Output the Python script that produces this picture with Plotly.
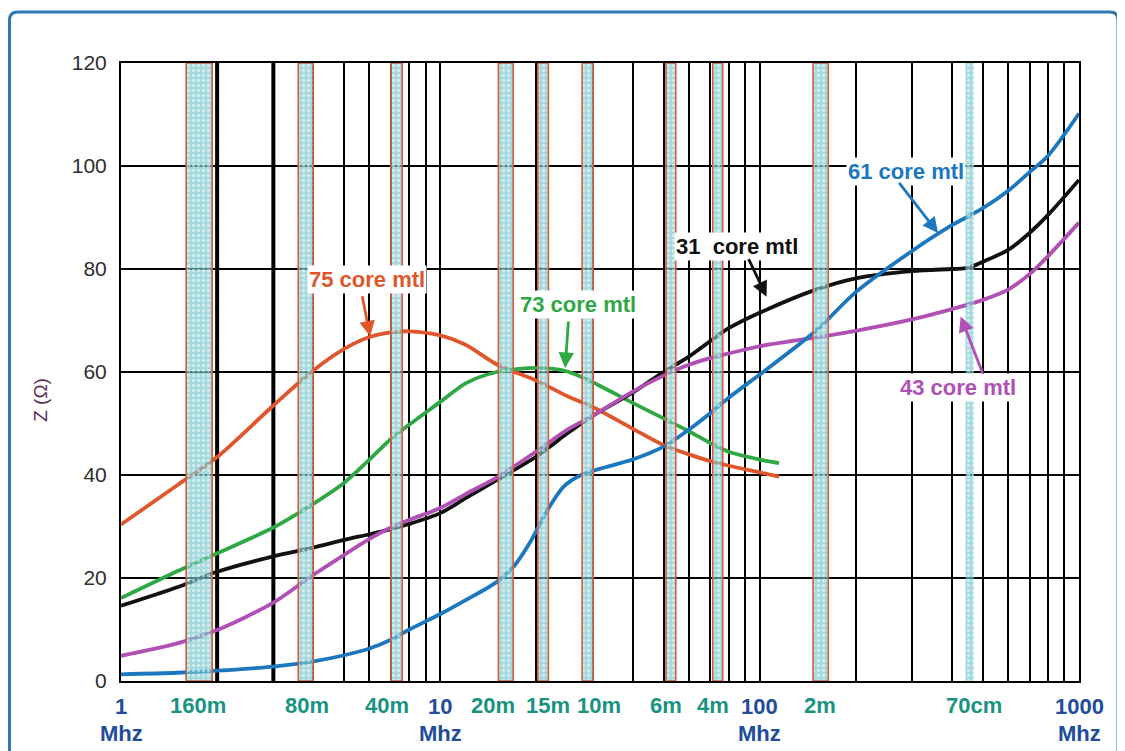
import numpy as np
import plotly.graph_objects as go

# ---------------- data ----------------
# core material curves: frequency (MHz) and impedance Z (ohm)
f75 = [1, 1.5, 2, 3, 4, 5, 6, 7, 8, 10, 12, 15, 20, 25, 30, 40, 50, 60, 70, 80, 100, 115]
z75 = [30.4, 38.0, 43.5, 53.5, 60.3, 64.5, 66.8, 67.7, 67.9, 67.1, 65.3, 61.5, 58.3, 55.3, 53.2, 49.0, 45.8, 44.0, 42.7, 41.8, 40.5, 39.7]

f73 = [1, 1.5, 2, 3, 4, 5, 6, 7, 8, 10, 12, 15, 20, 25, 30, 40, 50, 60, 70, 80, 100, 115]
z73 = [16.1, 21.3, 24.8, 29.8, 34.4, 38.5, 43.0, 47.0, 49.8, 54.2, 57.8, 60.0, 60.8, 60.1, 58.0, 54.0, 51.0, 48.5, 46.2, 44.5, 43.0, 42.3]

f31 = [1, 1.5, 2, 3, 4, 5, 6, 7, 8, 10, 12, 15, 20, 25, 30, 40, 50, 60, 70, 80, 100, 150, 200, 300, 400, 450, 500, 600, 700, 800, 1000]
z31 = [14.6, 18.2, 21.2, 24.2, 25.9, 27.4, 28.5, 29.5, 30.5, 32.6, 35.5, 39.0, 43.6, 48.1, 51.5, 56.0, 60.0, 63.0, 66.0, 68.5, 71.5, 76.0, 78.2, 79.6, 80.0, 80.2, 81.4, 83.7, 87.0, 90.5, 97.3]

f43 = [1, 1.5, 2, 3, 4, 5, 6, 7, 8, 10, 12, 15, 20, 25, 30, 40, 50, 60, 70, 80, 100, 150, 200, 300, 400, 500, 600, 700, 800, 1000]
z43 = [4.9, 7.3, 9.9, 15.2, 20.6, 24.5, 27.6, 29.8, 31.3, 33.6, 36.3, 39.5, 44.6, 48.8, 51.5, 56.2, 59.3, 61.4, 62.7, 63.6, 65.0, 66.7, 68.0, 70.2, 72.2, 74.0, 76.0, 79.0, 82.5, 89.0]

f61 = [1, 1.5, 2, 3, 4, 5, 6, 7, 8, 10, 12, 15, 17, 19, 21.7, 24.3, 27, 30, 40, 50, 60, 70, 80, 100, 150, 200, 300, 400, 500, 600, 700, 800, 1000]
z61 = [1.3, 1.6, 2.0, 2.8, 3.8, 5.0, 6.3, 8.0, 10.0, 13.0, 15.7, 19.2, 22.3, 26.7, 33.3, 37.7, 39.7, 40.8, 43.0, 45.5, 48.8, 52.0, 55.0, 59.5, 68.0, 75.5, 83.5, 88.5, 91.8, 95.2, 98.8, 102.0, 110.2]

# amateur bands (MHz)
band_names = ["160m", "80m", "40m", "20m", "15m", "10m", "6m", "4m", "2m", "70cm"]
band_lo = [1.60, 3.59, 7.0, 15.2, 20.2, 27.8, 50.9, 71.3, 147, 441]
band_hi = [1.93, 4.00, 7.6, 16.9, 21.8, 30.1, 54.6, 76.6, 164, 468]
band_outlined = [True, True, True, True, True, True, True, True, True, False]
band_label_mhz = [1.74, 3.83, 6.82, 14.6, 21.8, 31.4, 50.9, 71.3, 155, 468]

decade_mhz = [1, 10, 100, 1000]
decade_text = ["1", "10", "100", "1000"]
heavy_grid_mhz = [2, 3]
y_ticks = [0, 20, 40, 60, 80, 100, 120]

# curve labels: text, colour, text position, arrow tail, arrow tip (MHz, ohm)
labels = [
    ("75 core mtl", "#e0562c", (5.88, 77.9), (5.68, 75.0), (6.03, 66.9)),
    ("73 core mtl", "#2ea843", (27.0, 73.2), (25.2, 70.1), (24.6, 60.8)),
    ("31  core mtl", "#111111", (85.2, 84.3), (91.9, 82.2), (105.1, 74.6)),
    ("61 core mtl", "#1c78be", (287, 98.9), (271, 97.0), (362, 87.0)),
    ("43 core mtl", "#b04fb4", (417, 56.9), (501, 59.5), (426, 70.8)),
]

curves = [
    (f75, z75, "#e0562c", "75 core mtl"),
    (f73, z73, "#2ea843", "73 core mtl"),
    (f31, z31, "#111111", "31 core mtl"),
    (f43, z43, "#b04fb4", "43 core mtl"),
    (f61, z61, "#1c78be", "61 core mtl"),
]

FONT = "Liberation Sans, Arial"

# ---------------- figure ----------------
fig = go.Figure()

for fm in heavy_grid_mhz:
    fig.add_trace(go.Scatter(x=[fm, fm], y=[0, 120], mode="lines",
                             line=dict(color="#000000", width=4),
                             hoverinfo="skip", showlegend=False))

for fx, zy, col, name in curves:
    fig.add_trace(go.Scatter(x=fx, y=zy, mode="lines", name=name,
                             line=dict(color=col, width=3.8, shape="spline", smoothing=0.8),
                             showlegend=False))

for name, lo, hi, outl in zip(band_names, band_lo, band_hi, band_outlined):
    fig.add_trace(go.Scatter(
        x=[lo, hi, hi, lo, lo], y=[0, 0, 120, 120, 0],
        mode="lines", fill="toself", name=name,
        fillcolor="rgba(115,198,205,0.65)",
        fillpattern=dict(shape=".", fgcolor="rgba(255,255,255,0.95)",
                         size=5, solidity=0.35, fillmode="overlay"),
        line=dict(color="#d9593a" if outl else "rgba(0,0,0,0)", width=1.6),
        hoverinfo="skip", showlegend=False))

ann = []
for text, col, tpos, tail, tip in labels:
    ann.append(dict(x=np.log10(tpos[0]), y=tpos[1], xref="x", yref="y",
                    text=f"<b>{text}</b>", showarrow=False, bgcolor="white",
                    font=dict(family=FONT, size=22, color=col),
                    xanchor="center", yanchor="middle"))
    ann.append(dict(x=np.log10(tip[0]), y=tip[1], xref="x", yref="y",
                    ax=np.log10(tail[0]), ay=tail[1], axref="x", ayref="y",
                    text="", showarrow=True, arrowhead=2, arrowsize=1.1,
                    arrowwidth=2.8, arrowcolor=col))

for fm, txt in zip(decade_mhz, decade_text):
    ann.append(dict(x=np.log10(fm), y=0, xref="x", yref="paper", yshift=-25,
                    text=f"<b>{txt}</b>", showarrow=False,
                    font=dict(family=FONT, size=22, color="#1f4c9c"),
                    xanchor="center", yanchor="middle"))
    ann.append(dict(x=np.log10(fm), y=0, xref="x", yref="paper", yshift=-52,
                    text="<b>Mhz</b>", showarrow=False,
                    font=dict(family=FONT, size=22, color="#1f4c9c"),
                    xanchor="center", yanchor="middle"))

for fm, txt in zip(band_label_mhz, band_names):
    ann.append(dict(x=np.log10(fm), y=0, xref="x", yref="paper", yshift=-24,
                    text=f"<b>{txt}</b>", showarrow=False,
                    font=dict(family=FONT, size=22, color="#17937f"),
                    xanchor="center", yanchor="middle"))

ann.append(dict(x=0, y=0.455, xref="paper", yref="paper", xshift=-80,
                text="Z (Ω)", textangle=-90, showarrow=False,
                font=dict(family=FONT, size=19, color="#5c2a55"),
                xanchor="center", yanchor="middle"))

grid_ticks = [m * 10 ** d for d in range(3) for m in range(1, 10)] + [1000]

fig.update_layout(
    width=1117, height=743, autosize=False,
    margin=dict(l=113, r=46, t=55, b=70),
    paper_bgcolor="white", plot_bgcolor="white",
    annotations=ann,
    xaxis=dict(type="log", range=[0, 3], tickvals=grid_ticks, showticklabels=False,
               showgrid=True, gridcolor="#000000", gridwidth=2, ticks="",
               showline=True, linecolor="#000000", linewidth=2, mirror=True,
               zeroline=False),
    yaxis=dict(range=[0, 120], tickvals=y_ticks, showgrid=True,
               gridcolor="#000000", gridwidth=2, ticks="",
               showline=True, linecolor="#000000", linewidth=2, mirror=True,
               zeroline=False, ticklabelstandoff=8,
               tickfont=dict(family=FONT, size=21, color="#2e2e2e")),
    shapes=[dict(type="path", xref="paper", yref="paper",
                 xsizemode="pixel", ysizemode="pixel", xanchor=0, yanchor=0,
                 path="M -111.5,-90 L -111.5,661 Q -111.5,669 -103.5,669 "
                      "L 989,669 Q 997,669 997,661 L 997,-90",
                 line=dict(color="#2b78b5", width=3))],
)

fig.write_html("out.html")
